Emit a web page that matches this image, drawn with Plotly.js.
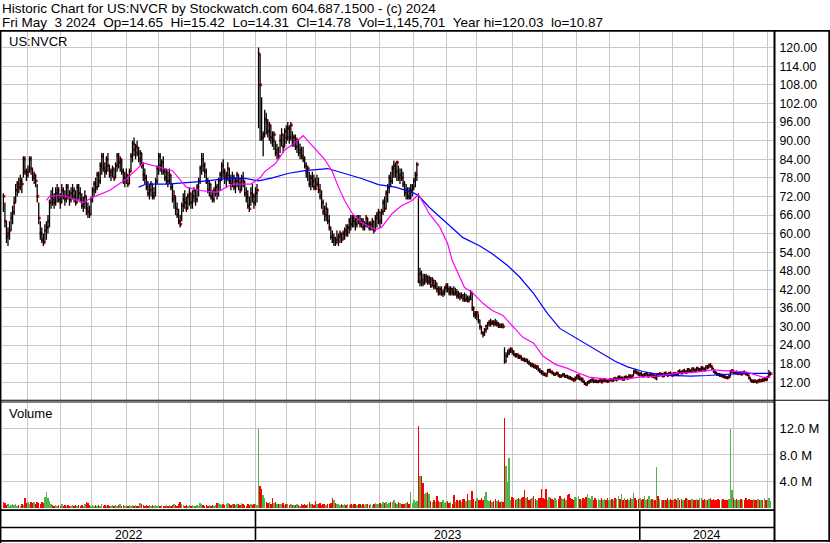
<!DOCTYPE html>
<html><head><meta charset="utf-8">
<script src="https://cdn.plot.ly/plotly-3.0.1.min.js"></script>
<style>html,body{margin:0;padding:0;background:#fff}#chart{width:830px;height:543px}</style>
</head><body><div id="chart"></div>
<script>
// ---------- DATA ----------
const startDate = '2022-05-09';
const endDate = '2024-05-03';
const holidays = ['2022-05-30','2022-06-20','2022-07-04','2022-09-05','2022-11-24','2022-12-26',
  '2023-01-02','2023-01-16','2023-02-20','2023-04-07','2023-05-29','2023-06-19','2023-07-04','2023-09-04','2023-11-23','2023-12-25',
  '2024-01-01','2024-01-15','2024-02-19','2024-03-29'];

const low = [
67,62,57,56,58,61,63,66,70,72, 73,74,73,78,79,77,78,80,79,77, 76,75,70,63,58,57,56,57,58,60,
62,68,69,68,69,70,70,68,70,71, 69,70,71,69,70,71,70,69,70,71, 70,68,67,68,66,65,65,66,70,72,
73,74,75,76,79,80,78,79,80,78, 77,78,77,78,80,81,80,79,76,75, 76,75,76,80,83,85,84,85,83,82,
81,77,76,74,72,71,72,71,71,72, 76,79,80,79,79,77,76,75,76,74, 70,68,66,65,63,62,64,67,68,67,
68,69,68,68,70,69,70,72,76,79, 80,78,76,73,72,71,70,70,72,71, 72,74,77,78,76,75,77,76,74,75,
74,73,75,74,73,74,75,72,70,68, 67,69,70,68,69,70,94,90,90,85, 91,92,91,90,89,88,87,85,84,84,
86,88,86,88,89,90,89,90,88,88, 87,86,85,84,84,83,81,78,77,75, 74,75,74,74,75,73,71,68,66,64,
64,63,61,58,57,56,56,57,56,57, 57,58,58,59,59,60,61,62,62,61, 62,63,62,62,61,61,62,62,61,61,
61,60,61,62,63,62,63,66,67,68, 70,73,75,76,78,78,77,77,76,77, 75,72,71,71,71,71,72,74,75,77,
44,43,43,43,43.5,44,43.5,43.5,42.5,43, 42,42,41,40,40,40,39.5,40,41,41, 40,40,40,40,40,39,39,38.5,39,38,
38,38,37.8,38,38.5,35,33,32.5,32,31, 29,27.5,26.5,27,28,29,30,30,30.5,30, 30.5,30,29.5,29.5,29.5,29.4,18,18.5,20,20.7,
21.5,21,20.5,20,20,19.5,19.5,19,18.8,18.5, 18.5,18,17.5,17,16.8,16.5,16.4,16,15.5,15, 14.5,14.2,14,13.9,14.5,15,15,14.5,14.2,14,
14.3,13.8,13.5,13.4,13.8,13.5,13.4,13.2,13,12.8, 12.5,12.3,12.4,12.8,12.8,12.6,12.2,11.8,11.2,10.87, 11.2,11.5,11.8,11.9,11.7,11.8,11.8,11.8,12,11.8,
11.9,12.1,12,11.8,12,12.3,12.2,12.3,12.5,12.3, 12.6,12.8,12.7,12.5,12.6,13,12.8,13,13.2,13.4, 14.2,14.8,14.6,14.2,13.8,14,13.5,13.8,14,13.6,
13.5,13.8,13.5,13.3,13.2,12.7,13.8,14,13.9,13.6, 13.8,14.2,13.8,14,14.3,13.8,13.9,14.2,14,14.2, 14.8,14.5,14.6,15,14.8,15,15.3,15,15.2,15.5,
15.3,15.5,15.6,15.4,15.6,15.8,15.5,15.8,16.2,16.5, 16.8,16,15,14.6,14.2,14,13.8,13.6,13.5,13.3, 13.2,13,13.3,14,15,14.8,14.5,14.6,14.3,14.4,
14.2,14.4,14.6,14.3,14,13,12.3,11.8,11.7,11.8, 11.7,11.9,12,12,12.1,12.3,12.4,12.7,13.5,14.31
];

const high = [
73,70,64,62,64,67,69,72,76,77, 78,79,78,85,85,81,82,85,85,81, 80,79,76,70,64,62,60,63,64,66,
71,74,75,73,75,76,75,73,76,75, 74,76,76,74,75,76,75,74,76,76, 75,73,72,74,72,70,69,72,75,77,
78,80,80,83,86,86,83,85,86,82, 81,82,81,83,86,86,85,84,81,80, 81,79,81,86,90,91,89,90,88,87,
86,83,81,79,77,76,77,76,75,78, 82,86,86,84,85,81,81,80,81,79, 76,74,72,70,68,66,70,73,74,72,
73,75,73,74,75,74,76,78,82,86, 86,83,81,78,77,76,74,75,77,76, 78,80,83,84,81,80,83,81,79,80,
79,78,80,79,78,79,80,77,75,74, 72,75,76,73,75,76,120.03,118,104,93, 100,99,97,96,95,93,93,90,89,88,
92,94,92,94,95,96,95,96,93,92, 92,91,90,89,88,88,85,83,82,80, 79,80,79,78,79,78,76,74,71,69,
70,68,66,62,61,60,59,61,60,61, 60,61,62,63,63,65,66,66,66,65, 66,66,66,65,65,64,66,65,64,64,
65,64,66,67,68,67,68,71,72,74, 76,79,80,82,83.6,83,83.6,82,81,81, 80,77,76,75,75,76,76,78,80,83,
73,49,48,47,47,47,46.5,46.5,46,46, 45,45,44,43,43,43,42,43,44,44, 43,43,42.5,43,42.5,42,41.5,41,41,40.5,
41,40.5,40,40,41.7,41,36.5,35,35,34, 32,30,28.5,29.5,30.5,31.5,32,32.5,32,32, 32.5,32,31.5,31,31,31,23.3,21.7,22.5,23,
23.3,22.8,22.3,21.5,21.4,21,21,20.6,20,20, 19.8,19.5,19,18.5,18.3,18,17.8,17.5,17,16.5, 16,15.8,15.2,15.2,16.2,16.4,16,15.8,15.3,15,
15.5,15,14.6,14.5,15,14.8,14.4,14.4,14.2,14, 13.6,13.4,13.8,14.5,14.5,14,13.5,13.2,12.6,12, 12.4,12.8,13,13.2,12.8,13,12.9,12.8,13,12.8,
13,13.3,13,12.8,13.1,13.4,13.2,13.6,13.8,13.5, 14,14.2,13.8,13.7,14,14.3,14,14.5,14.4,14.5, 15.8,16.4,15.8,15.5,15.2,15.3,14.8,15,15.2,15,
14.8,15,14.7,14.6,14.4,14.8,15,15.3,15,15, 15.2,15.5,15,15.3,15.5,15,15.2,15.4,15.2,15.8, 16.2,15.8,16,16.4,16,16.5,16.6,16.2,16.8,16.8,
16.5,17,16.8,16.6,17.2,17,16.8,17.4,17.6,18, 18.2,17.5,16.6,15.8,15.4,15,15,14.8,14.6,14.4, 14.2,14,14.5,16,16.2,15.8,15.6,15.8,15.4,15.6,
15.3,15.6,15.8,15.4,15,14.4,13.5,13,12.8,13, 12.7,13,13.2,13,13.3,13.5,13.4,14,16,15.42
];

const close = [
72,64,59,60,61,65,67,70,74,76, 75,77,76,84,80,79,80,84,81,78, 79,77,72,65,60,58,57,61,62,64,
70,72,71,70,73,74,71,70,74,72, 71,75,72,71,73,74,72,70,75,73, 71,69,70,72,68,67,66,71,74,76,
75,79,77,82,85,81,80,84,82,79, 80,81,78,82,85,83,84,80,77,78, 79,76,80,85,89,87,88,86,84,86,
82,79,78,75,73,74,76,72,73,77, 81,85,82,83,80,78,80,77,79,75, 71,72,68,66,64,63,69,71,70,68,
72,73,70,72,74,71,75,77,81,84, 82,80,77,74,76,72,71,74,75,73, 77,79,82,80,78,79,81,77,76,78,
75,77,79,76,74,78,77,73,72,69, 68,73,72,70,73,74,118,108,91,92, 97,96,93,95,91,90,92,86,87,85,
90,92,88,93,91,94,91,95,89,91, 88,90,86,87,85,84,82,80,81,76, 78,77,75,74.5,76,74,72,70,67,66,
68,64,62,59,57.5,58.5,57,58,59,60, 58,60,61,60,62,64,63,65,64,63, 65,64,63,64,62,63,65,63,62,63,
64,61,65,66,67,64,67,70,68,73, 75,78,77,81,82,80,83,78,79,78, 76,73,74,72,71.5,74,75,77,79,82.3,
44.5,47,45,44,45,46,44.5,45.5,43,45, 43,44,42,41,42,40.5,41,42.5,43,42, 41,42,41,40.5,41,40,40.5,39.5,40,39,
38.5,39,38.2,39,41,36,34,33.5,34.5,32, 30,28,27.5,29,30.2,31,31.5,31,31.5,31, 30.6,31,30.5,30,30.5,30,18.7,20.5,21.5,22.3,
22.8,22,21,20.5,21,20,20.3,19.5,19.3,19, 19.2,18.4,18,17.5,17.8,17,16.8,17.2,16,15.5, 15,14.6,14.4,14.1,15.8,16,15.3,15,14.5,14.8,
15,14.2,13.8,14.2,14.6,13.9,14,13.5,13.3,13.2, 13,12.6,13.5,14,14.2,13.1,13.2,12.2,11.6,11.2, 12,12.2,12.6,12.9,12.4,12.2,12.1,12.3,12.7,12,
12.6,12.9,12.4,12.2,12.8,12.9,12.5,13.2,13,13.3, 13.8,13.2,13.5,12.9,13.7,13.6,13.4,14.2,13.6,14.1, 15.6,15.3,15,14.5,14.8,14.3,14.1,14.6,14.9,14,
14.4,14.7,13.9,14.2,13.3,14.6,14.2,14.5,14.7,14, 15,14.6,14.2,15,14.8,14.3,14.9,14.6,14.4,15.5, 15.2,15,15.7,15.4,15.1,16.2,15.6,15.4,16.4,15.9,
15.8,16.6,16,16.2,16.8,16.3,16,17,16.8,17.6, 17.2,16.4,15.4,15,14.6,14.5,14.2,14.4,13.9,13.6, 13.5,13.4,13.8,15.6,15.8,15.1,15.3,14.9,15,15.2,
14.6,15.3,15,14.6,14.4,13.4,12.6,12.3,12.5,12.2, 12,12.6,12.4,12.8,12.6,13.2,12.8,13.7,14.5,14.78
];

// daily volume, millions of shares
const volume = [
1.0,0.8,0.5,0.6,0.4,0.5,0.7,0.5,0.6,0.4, 0.5,0.4,0.6,0.5,1.5,0.8,0.9,0.7,1.0,0.8, 0.9,0.7,1.0,0.8,0.7,0.9,0.8,1.7,2.4,1.5,
1.1,0.7,0.5,0.4,0.5,0.4,0.5,0.4,0.6,0.4, 0.5,0.4,0.5,0.4,0.4,0.5,0.4,0.5,0.4,0.5, 0.4,0.5,0.4,0.6,1.0,0.8,0.5,0.4,0.5,0.4,
0.5,0.4,0.5,0.4,0.6,0.4,0.5,0.4,0.5,0.4, 0.4,0.5,0.4,0.5,0.4,0.5,0.6,0.4,0.5,0.4, 0.5,0.4,0.5,0.4,0.5,0.4,0.5,0.4,0.4,0.8,
0.6,0.5,0.4,0.5,0.4,0.5,0.4,0.5,0.4,0.5, 0.4,0.5,0.4,0.5,0.4,0.4,0.5,0.4,0.5,0.4, 0.5,0.6,0.5,0.4,0.7,1.0,0.6,0.5,0.4,0.5,
0.4,0.5,0.4,0.5,0.4,0.4,0.5,0.4,0.8,0.7, 0.5,0.4,0.5,0.4,0.5,0.4,0.5,0.4,0.5,0.8, 0.8,0.7,0.5,0.6,0.5,0.7,0.8,0.6,0.5,0.7,
0.6,0.5,0.7,0.6,0.5,0.8,0.6,0.5,0.4,0.6, 0.5,0.7,0.5,0.6,0.7,0.5,11.9,3.4,2.9,2.0, 1.5,1.0,0.8,0.9,0.7,1.5,0.8,1.0,0.7,0.6,
0.7,0.6,0.8,0.5,0.6,0.7,0.5,0.6,0.5,0.5, 0.5,0.6,0.5,0.4,0.6,0.5,0.7,0.5,0.6,1.0, 0.6,0.7,0.5,1.1,0.7,0.6,0.8,0.5,0.7,0.6,
0.5,0.7,0.6,0.8,1.6,1.3,0.8,0.6,0.7,0.5, 0.6,0.5,0.6,0.5,0.7,0.5,0.6,0.5,0.7,0.6, 0.5,0.7,0.6,0.5,0.6,0.5,0.7,0.6,0.5,0.6,
0.5,0.6,0.8,0.7,0.6,0.8,0.7,1.0,0.8,0.9, 0.7,0.8,1.0,0.9,1.2,0.8,0.7,0.9,0.8,0.6, 0.7,0.6,0.8,0.9,0.7,2.4,0.8,1.2,0.9,1.1,
12.4,4.8,4.9,3.8,2.2,2.3,2.4,2.1,1.1,0.9, 1.2,1.0,1.9,1.1,1.0,0.9,1.3,0.8,1.0,1.1, 0.8,0.9,0.7,2.0,1.0,1.2,1.1,1.3,1.0,1.4,
1.4,1.1,2.1,1.2,1.3,2.6,1.4,1.1,1.5,1.3, 1.2,1.5,1.3,1.9,2.4,1.2,1.1,1.3,1.0,1.1, 1.4,1.1,1.2,1.0,1.1,0.9,13.6,6.3,4.0,7.5,
1.2,1.7,1.5,1.3,1.4,1.6,1.4,1.5,1.7,2.7, 1.5,1.7,1.3,1.4,1.6,1.8,1.4,1.3,1.5,1.6, 2.9,1.5,1.4,2.9,1.3,1.7,1.5,1.4,1.3,1.6,
1.3,1.4,1.9,1.5,1.4,1.6,1.3,2.0,2.1,1.5, 1.4,1.3,1.7,1.5,1.8,1.4,1.3,1.6,1.4,1.7, 2.2,1.5,1.4,1.8,1.3,1.6,1.2,1.4,1.3,1.5,
1.2,1.4,1.3,1.5,1.3,1.2,1.4,1.3,1.5,1.4, 1.8,1.4,2.2,1.3,1.5,1.2,1.4,1.3,1.6,1.4, 2.3,1.5,1.3,1.4,1.5,1.3,1.4,1.8,1.3,1.4,
1.9,1.3,1.4,1.2,1.3,6.2,1.9,1.4,1.3,1.2, 1.3,1.2,1.5,1.3,1.4,1.2,1.3,1.4,1.2,1.5, 1.3,1.4,1.2,1.3,1.5,1.4,1.3,1.2,1.4,1.3,
1.2,1.4,1.3,1.5,1.6,1.3,1.4,1.2,1.3,1.4, 1.5,1.3,1.4,1.2,1.3,1.4,1.2,1.3,1.4,1.2, 1.3,1.2,1.4,11.9,2.7,1.5,1.3,1.4,1.2,1.3,
1.4,1.2,1.3,1.5,1.2,1.4,1.3,1.2,1.4,1.3, 1.2,1.4,1.3,1.2,1.3,1.5,1.2,1.3,1.6,1.15
];

// moving averages (trading-day number, value)
const maShortDay = [28,30,37,41,52,58,69,80,91,102,110,119,128,139,149,161,167,170,177,183,190,195,201,209,214,218,222,227,233,242,246,253,259,266,270,277,284,289,292,297,300,305,312,318,325,332,338,345,351,359,367,374,381,393,403,414,425,438,451,462,473,484,494,499];
const maShortVal = [70.7,72,72.3,72,70,71.7,73.9,77.6,82.8,81.4,80.3,75,73.9,73.3,76,76,78,80,82.6,87,89.4,91.6,88.4,84,80,75,70.7,66.5,63.6,61.3,62,66.5,69,70.7,72.6,66.5,62,56.8,51.3,45.9,42.6,41,37.5,35.2,33.6,29.7,26.5,24.6,20.5,17.8,16.5,15,13.7,13,13,13.7,14,14.9,15.3,16,15.6,15.2,13.7,13.6];
const maLongDay = [88,93,106,128,149,157,166,175,185,196,211,222,233,244,255,266,270,277,289,299,310,318,328,336,345,354,362,372,380,389,398,406,416,429,447,458,468,481,499];
const maLongVal = [75,76,76,76.8,78,77.8,77,78,79.4,80.3,81,79.4,77.8,75.8,75,73.3,72.3,68.5,63.3,58.7,56,53.5,49.7,45.9,40.6,34.2,29.4,26.5,24,21.3,18.8,17,15.5,14.3,14,14.2,14.5,14.9,14.9];

const priceTicks = [12,18,24,30,36,42,48,54,60,66,72,78,84,90,96,102,108,114,120];
const volumeTicks = [4,8,12];
const headerLine1 = 'Historic Chart for US:NVCR by Stockwatch.com 604.687.1500 - (c) 2024';
const headerLine2 = 'Fri May\u00a0\u00a03 2024\u00a0\u00a0Op=14.65\u00a0\u00a0Hi=15.42\u00a0\u00a0Lo=14.31\u00a0\u00a0Cl=14.78\u00a0\u00a0Vol=1,145,701\u00a0\u00a0Year hi=120.03\u00a0\u00a0lo=10.87';
const symbolLabel = 'US:NVCR';
const volumeLabel = 'Volume';

// ---------- BUILD ----------
function tradingDates(){
  const out=[]; const d=new Date(startDate+'T00:00:00Z'); const end=new Date(endDate+'T00:00:00Z');
  while(d<=end){ const wd=d.getUTCDay(); const s=d.toISOString().slice(0,10);
    if(wd!==0 && wd!==6 && holidays.indexOf(s)<0) out.push(s);
    d.setUTCDate(d.getUTCDate()+1); }
  return out;
}
const dates = tradingDates();
const dayNo = close.map((_,i)=>i);
const monthStarts=[], yearStarts=[], yearNames=[dates[0].slice(0,4)];
for(let i=1;i<dates.length;i++){
  if(dates[i].slice(0,7)!==dates[i-1].slice(0,7)) monthStarts.push(i);
  if(dates[i].slice(0,4)!==dates[i-1].slice(0,4)){ yearStarts.push(i); yearNames.push(dates[i].slice(0,4)); }
}

const W=830, H=543;
const fx = p => p/W, fy = p => 1 - p/H;
const XR = [-0.9, 501.0];
const FONT = '"Liberation Sans", Arial, sans-serif';
const GRID = '#c8c8c8';

const barX=[], barY=[];
for(let i=0;i<close.length;i++){ barX.push(i,i,null); barY.push(low[i],high[i],null); }
const closeX = dayNo.map(i=>i+0.45);
const volColors = close.map((c,i)=> (i>0 && c>close[i-1]) ? '#4cb84c' : '#ff0000');

const traces = [
  {type:'scatter', mode:'markers', x:closeX, y:close, marker:{symbol:'square', size:2.6, color:'#ff0000', line:{width:0}}, xaxis:'x', yaxis:'y'},
  {type:'scatter', mode:'lines', x:barX, y:barY, line:{color:'#000', width:1.3}, hoverinfo:'skip', xaxis:'x', yaxis:'y'},
  {type:'scatter', mode:'lines', x:maLongDay, y:maLongVal, line:{color:'#0000ff', width:1.2}, xaxis:'x', yaxis:'y'},
  {type:'scatter', mode:'lines', x:maShortDay, y:maShortVal, line:{color:'#ff00ff', width:1.2}, xaxis:'x', yaxis:'y'},
  {type:'bar', x:dayNo, y:volume, width:0.95, marker:{color:volColors, line:{width:0}}, xaxis:'x2', yaxis:'y2'}
];

function hline(y,x0,x1,w){ return {type:'line', xref:'paper', yref:'paper', x0:fx(x0), x1:fx(x1), y0:fy(y), y1:fy(y), line:{color:'#000', width:w}}; }
function vline(x,y0,y1,w){ return {type:'line', xref:'paper', yref:'paper', x0:fx(x), x1:fx(x), y0:fy(y0), y1:fy(y1), line:{color:'#000', width:w}}; }

const shapes = [
  hline(30.9, 0, 830, 1.8),
  vline(0.7, 30, 543, 1.5),
  vline(774.5, 30, 542, 2),
  vline(829.2, 30, 542, 1.8),
  hline(400.3, 0, 830, 1.1),
  hline(402, 0, 774, 1.1),
  hline(510.1, 0, 774, 1.8),
  hline(527.5, 0, 774, 1.7),
  hline(540.9, 0, 830, 1.8)
];
yearStarts.forEach(i=>{
  shapes.push({type:'line', xref:'x', yref:'paper', x0:i, x1:i, y0:fy(510), y1:fy(541), line:{color:'#000', width:1.6}});
});

const bounds = [XR[0]].concat(yearStarts).concat([XR[1]]);
const annotations = [
  {text:headerLine1, xref:'paper', yref:'paper', x:fx(0), y:fy(-1.2), xanchor:'left', yanchor:'top', showarrow:false, font:{family:FONT, size:13.5, color:'#000'}},
  {text:headerLine2, xref:'paper', yref:'paper', x:fx(0), y:fy(12.8), xanchor:'left', yanchor:'top', showarrow:false, font:{family:FONT, size:13.5, color:'#000'}},
  {text:symbolLabel, xref:'paper', yref:'paper', x:fx(7.3), y:fy(32.2), xanchor:'left', yanchor:'top', showarrow:false, font:{family:FONT, size:13, color:'#000'}},
  {text:volumeLabel, xref:'paper', yref:'paper', x:fx(7.3), y:fy(403.8), xanchor:'left', yanchor:'top', showarrow:false, font:{family:FONT, size:13, color:'#000'}}
];
yearNames.forEach((yn,k)=>{
  annotations.push({text:yn, xref:'x', yref:'paper', x:(bounds[k]+bounds[k+1])/2, y:fy(535), xanchor:'center', yanchor:'middle', showarrow:false, font:{family:FONT, size:12.3, color:'#000'}});
});

const xBase = {range:XR, tickmode:'array', tickvals:monthStarts, showticklabels:false, ticks:'', showgrid:true, gridcolor:GRID, gridwidth:1, zeroline:false, showline:false, fixedrange:true};
const layout = {
  width:W, height:H, margin:{l:0,r:0,t:0,b:0}, paper_bgcolor:'#fff', plot_bgcolor:'#fff', showlegend:false, bargap:0,
  font:{family:FONT, color:'#000'},
  xaxis: Object.assign({}, xBase, {domain:[fx(2), fx(773.5)], anchor:'y'}),
  xaxis2: Object.assign({}, xBase, {domain:[fx(2), fx(773.5)], anchor:'y2'}),
  yaxis: {domain:[fy(400), fy(32)], range:[6.29,125.07], side:'right', anchor:'x', tickmode:'array', tickvals:priceTicks,
          ticktext:priceTicks.map(v=>v.toFixed(2)),
          showgrid:true, gridcolor:GRID, gridwidth:1, zeroline:false, showline:false, ticks:'', ticklabelstandoff:5, tickfont:{family:FONT, size:12.3, color:'#000'}},
  yaxis2: {domain:[fy(508.3), fy(402.5)], range:[0,15.87], side:'right', anchor:'x2', tickmode:'array', tickvals:volumeTicks,
          ticktext:volumeTicks.map(v=>v.toFixed(1)+' M'),
          showgrid:true, gridcolor:GRID, gridwidth:1, zeroline:false, showline:false, ticks:'', ticklabelstandoff:5, tickfont:{family:FONT, size:13, color:'#000'}},
  shapes: shapes,
  annotations: annotations
};
Plotly.newPlot('chart', traces, layout, {staticPlot:true, displayModeBar:false});
</script>
</body></html>
